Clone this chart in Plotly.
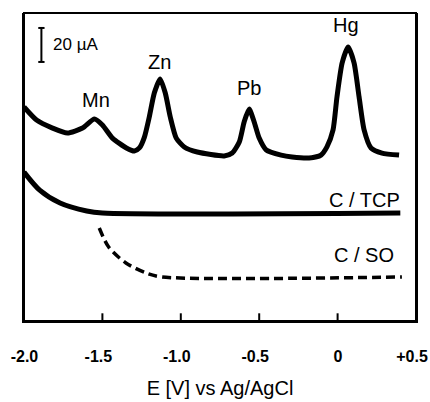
import plotly.graph_objects as go

# Potential (V vs Ag/AgCl) and current (µA, arbitrary offset)
e_peaks = [-2.00, -1.920, -1.818, -1.723, -1.627, -1.551, -1.500, -1.436, -1.347, -1.296,
           -1.264, -1.232, -1.201, -1.169, -1.132, -1.099, -1.067, -1.029, -0.978, -0.895,
           -0.723, -0.672, -0.627, -0.596, -0.564, -0.532, -0.500, -0.455, -0.360, -0.290,
           -0.182, -0.106, -0.068, -0.029, -0.004, 0.029, 0.067, 0.105, 0.137, 0.169,
           0.213, 0.283, 0.392]
i_peaks = [125.9, 118.2, 113.5, 110.6, 113.5, 118.8, 115.3, 107.6, 101.8, 100.0,
           101.8, 108.2, 120.0, 134.1, 142.4, 134.1, 120.0, 107.6, 102.4, 99.4,
           97.1, 98.8, 105.3, 117.1, 124.7, 117.1, 107.6, 100.6, 97.6, 96.5,
           95.9, 97.6, 102.4, 112.4, 131.8, 151.8, 161.2, 151.8, 131.8, 112.4,
           101.8, 98.8, 97.6]

e_tcp = [-2.00, -1.90, -1.77, -1.60, -1.50, 0.40]
i_tcp = [87.6, 77.0, 69.4, 64.7, 63.5, 63.5]

e_so = [-1.52, -1.46, -1.35, -1.22, -1.12, 0.41]
i_so = [54.7, 43.5, 34.1, 28.2, 25.9, 25.9]

tick_vals = [-2.0, -1.5, -1.0, -0.5, 0.0, 0.5]
tick_text = ["\u00a0\u00a0-2.0", "-1.5", "-1.0", "-0.5", "\u00a0\u00a00", "+0.5"]

peak_labels = ["Mn", "Zn", "Pb", "Hg"]
peak_label_e = [-1.538, -1.137, -0.564, 0.054]
peak_label_i = [130.0, 152.4, 137.0, 174.0]

curve_labels = ["C / TCP", "C / SO"]
curve_label_e = [0.169, 0.169]
curve_label_i = [71.2, 38.8]

scale_e = -1.889
scale_i = [152.4, 172.4]  # 20 µA bar

fig = go.Figure()
fig.add_trace(go.Scatter(x=e_peaks, y=i_peaks, mode="lines",
                         line=dict(color="black", width=5, shape="spline", smoothing=0.6),
                         showlegend=False, hoverinfo="skip"))
fig.add_trace(go.Scatter(x=e_tcp, y=i_tcp, mode="lines",
                         line=dict(color="black", width=5, shape="spline", smoothing=0.8),
                         showlegend=False, hoverinfo="skip"))
fig.add_trace(go.Scatter(x=e_so, y=i_so, mode="lines",
                         line=dict(color="black", width=3.5, dash="9px,5px", shape="spline", smoothing=0.8),
                         showlegend=False, hoverinfo="skip"))

font = "Liberation Sans, Arial, sans-serif"
ann = []
for t, x, y in zip(peak_labels, peak_label_e, peak_label_i):
    ann.append(dict(x=x, y=y, text=t, showarrow=False, font=dict(family=font, size=20, color="black")))
for t, x, y in zip(curve_labels, curve_label_e, curve_label_i):
    ann.append(dict(x=x, y=y, text=t, showarrow=False, font=dict(family=font, size=20, color="black")))
ann.append(dict(x=-1.830, y=162.4, text="20 µA", xanchor="left", showarrow=False,
                font=dict(family=font, size=17, color="black")))

shapes = [
    dict(type="rect", xref="paper", yref="paper", x0=0, x1=1, y0=0, y1=1,
         line=dict(color="black", width=2), layer="above"),
    dict(type="line", x0=scale_e, x1=scale_e, y0=scale_i[0], y1=scale_i[1], line=dict(color="black", width=2)),
    dict(type="line", x0=scale_e - 0.02, x1=scale_e + 0.02, y0=scale_i[0], y1=scale_i[0], line=dict(color="black", width=2)),
    dict(type="line", x0=scale_e - 0.02, x1=scale_e + 0.02, y0=scale_i[1], y1=scale_i[1], line=dict(color="black", width=2)),
]
# inside tick marks on the bottom axis
for v in tick_vals[1:-1]:
    shapes.append(dict(type="line", xref="x", yref="paper", x0=v, x1=v, y0=0, y1=0.025,
                       line=dict(color="black", width=2), layer="above"))

fig.update_layout(
    width=430, height=402,
    margin=dict(l=24, r=14, t=13, b=81, autoexpand=False),
    paper_bgcolor="white", plot_bgcolor="white",
    annotations=ann, shapes=shapes,
    xaxis=dict(range=[-2.0, 0.5], tickvals=tick_vals, ticktext=tick_text,
               ticks="", showline=True, linecolor="black", linewidth=2, mirror=False,
               showgrid=False, zeroline=False, automargin=False,
               ticklabeloverflow="allow", ticklabelstandoff=20, ticklabelshift=-4,
               tickfont=dict(family=font, size=16, color="black", weight="bold"),
               title=dict(text="E [V] vs Ag/AgCl", font=dict(family=font, size=20, color="black"), standoff=17)),
    yaxis=dict(range=[0, 181.2], showticklabels=False, ticks="",
               showline=True, linecolor="black", linewidth=2, mirror=True,
               showgrid=False, zeroline=False, automargin=False),
)

fig.write_html("out.html", config={"displayModeBar": False},
               post_script="document.body.style.margin='0';document.body.style.overflow='hidden';")
